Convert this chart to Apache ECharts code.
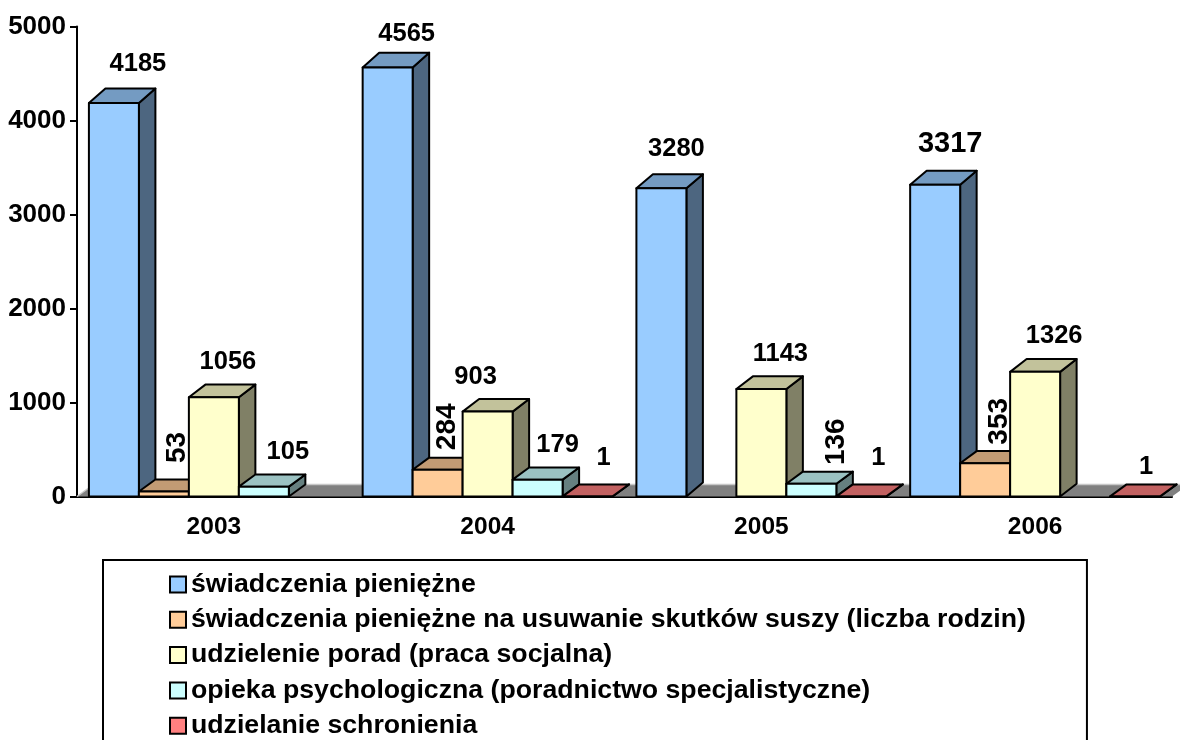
<!DOCTYPE html>
<html>
<head>
<meta charset="utf-8">
<script src="https://cdn.jsdelivr.net/npm/echarts@6/dist/echarts.min.js"></script>
<style>
html, body { margin: 0; width: 1180px; height: 740px; overflow: hidden; background: #fff; }
/* taller than the window: the legend box runs off the bottom edge */
#main { width: 1180px; height: 780px; }
</style>
</head>
<body>
<div id="main"></div>
<script>
var years = ['2003', '2004', '2005', '2006'];
var names = [
    'świadczenia pieniężne',
    'świadczenia pieniężne na usuwanie skutków suszy (liczba rodzin)',
    'udzielenie porad (praca socjalna)',
    'opieka psychologiczna (poradnictwo specjalistyczne)',
    'udzielanie schronienia'
];
var money = [4185, 4565, 3280, 3317];
var drought = [53, 284, null, 353];
var advice = [1056, 903, 1143, 1326];
var psych = [105, 179, 136, null];
var shelter = [null, 1, 1, 1];
var allValues = [money, drought, advice, psych, shelter];
var colors = ['#99ccff', '#ffcc99', '#ffffcc', '#ccffff', '#ff8080'];

// where each value label sits, relative to bar centre / top of front face (px)
var labelDx = [[24, 19, 15, 15], [13, 10, 0, 14], [14, -12, 19, 19], [24, 20, 25, 0], [0, 16, 17, 11]];
var labelDy = [[-39, -33, -39, -41], [-44, -43, 0, -42], [-35, -35, -35, -36], [-35, -35, -42, 0], [0, -38, -38, -29]];
var labelRot = [[0, 0, 0, 0], [1, 1, 0, 1], [0, 0, 0, 0], [0, 0, 1, 0], [0, 0, 0, 0]];

var FONT = '"Liberation Sans", Arial, sans-serif';
var chart = echarts.init(document.getElementById('main'));

function shade(hex, k) {
    var n = parseInt(hex.slice(1), 16);
    var r = Math.round((n >> 16) * k), g = Math.round(((n >> 8) & 255) * k), b = Math.round((n & 255) * k);
    return 'rgb(' + r + ',' + g + ',' + b + ')';
}

function barItem(s) {
    return function (params, api) {
        var v = api.value(1);
        if (isNaN(v)) {
            return;
        }
        var c = api.coord([api.value(0), v]);
        var base = api.coord([api.value(0), 0]);
        var w = api.size([1, 0])[0] * 0.1826;
        var x0 = c[0] + (s - 2) * w - w / 2, x1 = x0 + w;
        var top = c[1], bot = base[1];
        var dx = 16.5, dy = 12 + v * 0.0006;
        var line = { stroke: '#000', lineWidth: 2, lineJoin: 'round' };
        var i = params.dataIndex;
        function poly(points, fill) {
            return { type: 'polygon', shape: { points: points }, style: Object.assign({ fill: fill }, line) };
        }
        return {
            type: 'group',
            children: [
                poly([[x1, top], [x1 + dx, top - dy], [x1 + dx, bot - dy], [x1, bot]], shade(colors[s], 0.5)),
                poly([[x0, top], [x0 + dx, top - dy], [x1 + dx, top - dy], [x1, top]], shade(colors[s], 0.76)),
                poly([[x0, top], [x1, top], [x1, bot], [x0, bot]], colors[s]),
                {
                    type: 'text',
                    x: x0 + w / 2 + labelDx[s][i],
                    y: top + labelDy[s][i],
                    rotation: labelRot[s][i] ? Math.PI / 2 : 0,
                    style: {
                        text: String(v),
                        fontFamily: FONT,
                        fontWeight: 'bold',
                        fontSize: labelRot[s][i] ? 28 : (v === 3317 ? 29 : 25.5),
                        fill: '#000',
                        align: 'center',
                        verticalAlign: 'middle'
                    }
                }
            ]
        };
    };
}

function floorItem(params, api) {
    var g = params.coordSys;
    var y = g.y + g.height, x0 = g.x, x1 = g.x + g.width;
    var dx = 16.5, dy = 12;
    return {
        type: 'group',
        children: [
            { type: 'polygon', shape: { points: [[x0, y], [x0 + dx, y - dy], [x1 + dx, y - dy], [x1, y]] }, style: { fill: '#808080' } },
            { type: 'line', shape: { x1: x0 + dx, y1: y - dy, x2: x1 + dx, y2: y - dy }, style: { stroke: '#c8c8c8', lineWidth: 1.5 } },
            { type: 'line', shape: { x1: x0, y1: y, x2: x0 + dx, y2: y - dy }, style: { stroke: '#c8c8c8', lineWidth: 1.5 } }
        ]
    };
}

var series = [{ type: 'custom', name: 'floor', silent: true, renderItem: floorItem, data: [[0, 0]], z: 1 }];
names.forEach(function (name, s) {
    series.push({
        type: 'custom',
        name: name,
        renderItem: barItem(s),
        encode: { x: 0, y: 1 },
        itemStyle: { color: colors[s], borderColor: '#000', borderWidth: 2 },
        data: allValues[s].map(function (v, i) { return [years[i], v]; }),
        z: 2 + s
    });
});

var option = {
    backgroundColor: '#fff',
    animation: false,
    grid: { left: 77, top: 26.5, width: 1095, height: 470, outerBoundsMode: 'none' },
    legend: {
        data: names,
        orient: 'vertical',
        left: 103,
        top: 560,
        padding: [11, 61, 14, 66],
        itemWidth: 16,
        itemHeight: 16,
        itemGap: 8.3,
        icon: 'rect',
        selectedMode: false,
        borderColor: '#000',
        borderWidth: 2,
        backgroundColor: '#fff',
        textStyle: { fontFamily: FONT, fontWeight: 'bold', fontSize: 26.7, color: '#000' }
    },
    xAxis: {
        type: 'category',
        data: years,
        axisLine: { lineStyle: { color: '#000', width: 2 } },
        axisTick: { length: 7, lineStyle: { color: '#000', width: 2 } },
        axisLabel: { margin: 18, color: '#000', fontFamily: FONT, fontWeight: 'bold', fontSize: 24.5 },
        splitLine: { show: false }
    },
    yAxis: {
        type: 'value',
        min: 0,
        max: 5000,
        interval: 1000,
        axisLine: { show: true, lineStyle: { color: '#000', width: 2 } },
        axisTick: { show: true, length: 7, lineStyle: { color: '#000', width: 2 } },
        axisLabel: {
            margin: 11,
            color: '#000',
            fontFamily: FONT,
            fontWeight: 'bold',
            fontSize: 26,
            formatter: function (v) { return String(v); }
        },
        splitLine: { show: false }
    },
    series: series
};

chart.setOption(option);
</script>
</body>
</html>
